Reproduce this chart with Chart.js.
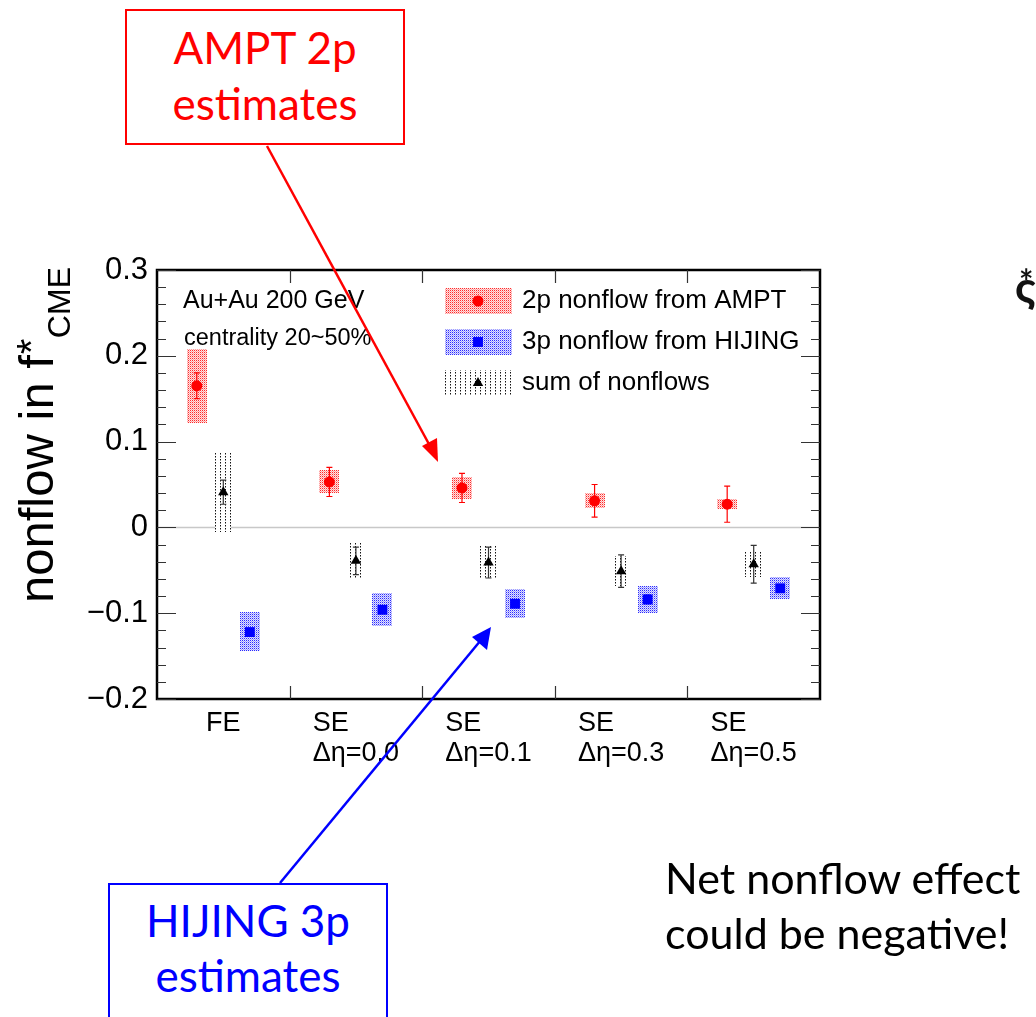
<!DOCTYPE html>
<html>
<head>
<meta charset="utf-8">
<script src="https://cdn.jsdelivr.net/npm/chart.js@4.4.1/dist/chart.umd.min.js"></script>
<style>
  html, body { margin: 0; padding: 0; background: #fff; overflow: hidden; }
  #wrap { position: relative; width: 1036px; height: 1017px; overflow: hidden; }
  #chart { position: absolute; left: 0; top: 0; }
  .box { position: absolute; box-sizing: border-box; border: 2px solid; background: #fff; }
  .txt { position: absolute; font-family: Lato, "Open Sans", sans-serif; line-height: 1; white-space: nowrap; }
  #arrows { position: absolute; left: 0; top: 0; pointer-events: none; }
</style>
</head>
<body>
<div id="wrap">
  <canvas id="chart" width="1036" height="1017"></canvas>

  <div class="box" style="left:125px; top:9px; width:280px; height:136px; border-color:#ff0000;"></div>
  <div class="txt" style="left:125px; width:280px; text-align:center; top:25px; font-size:44px; color:#ff0000;">AMPT 2p</div>
  <div class="txt" style="left:125px; width:280px; text-align:center; top:81px; font-size:44px; color:#ff0000;">estimates</div>

  <div class="box" style="left:108px; top:883px; width:280px; height:160px; border-color:#0000ff;"></div>
  <div class="txt" style="left:108px; width:280px; text-align:center; top:898px; font-size:44px; color:#0000ff;">HIJING 3p</div>
  <div class="txt" style="left:108px; width:280px; text-align:center; top:953px; font-size:44px; color:#0000ff;">estimates</div>

  <div class="txt" style="left:665px; top:856px; font-size:43px; color:#000;">Net nonflow effect</div>
  <div class="txt" style="left:665px; top:911px; font-size:43px; color:#000;">could be negative!</div>

  <div class="txt" style="left:1019px; top:264px; font-size:34px; font-weight:bold; color:#111;">*</div>
  <div class="txt" style="left:1015px; top:264px; font-size:44px; font-weight:bold; color:#111;">ς</div>

  <svg id="arrows" width="1036" height="1017">
    <line x1="267" y1="146" x2="430" y2="446" stroke="#ff0000" stroke-width="2.5"/>
    <polygon points="438,462 422,446 437,438" fill="#ff0000"/>
    <line x1="280" y1="883" x2="481" y2="640" stroke="#0000ff" stroke-width="2.5"/>
    <polygon points="491,627 487,650 472,637" fill="#0000ff"/>
  </svg>
</div>

<script>
// categories and tick values
const categories = [["FE"], ["SE", "Δη=0.0"], ["SE", "Δη=0.1"], ["SE", "Δη=0.3"], ["SE", "Δη=0.5"]];
const yTicks = [-0.2, -0.1, 0, 0.1, 0.2, 0.3];

// 2p nonflow from AMPT
const amptValues = [0.165, 0.053, 0.046, 0.031, 0.027];
const amptStat = [0.015, 0.017, 0.017, 0.019, 0.021];
const amptSys = [0.043, 0.0135, 0.013, 0.009, 0.006];

// 3p nonflow from HIJING
const hijingValues = [-0.122, -0.096, -0.089, -0.084, -0.071];
const hijingStat = [0.004, 0.004, 0.004, 0.005, 0.004];
const hijingSys = [0.023, 0.019, 0.017, 0.016, 0.013];

// sum of nonflows
const sumValues = [0.041, -0.039, -0.041, -0.051, -0.043];
const sumStat = [0.014, 0.016, 0.018, 0.019, 0.022];
const sumSys = [0.046, 0.021, 0.020, 0.0175, 0.0146];

const FONT = '"Liberation Sans", Arial, Helvetica, sans-serif';
Chart.defaults.font.family = FONT;

function dotPattern(ctx, w, h, dots) {
  const c = document.createElement("canvas");
  c.width = w;
  c.height = h;
  const g = c.getContext("2d");
  g.fillStyle = "#fff";
  g.fillRect(0, 0, w, h);
  dots.forEach(([x, y, col]) => {
    g.fillStyle = col;
    g.fillRect(x, y, 1, 1);
  });
  return ctx.createPattern(c, "repeat");
}

// one entry per series: where it sits in the category and how it looks
const series = [
  { label: "2p nonflow from AMPT", values: amptValues, stat: amptStat, sys: amptSys,
    offset: -0.2, half: 0.076, color: "#ff0000", barColor: "#ff0000", style: "circle", radius: 5.5, pattern: null },
  { label: "3p nonflow from HIJING", values: hijingValues, stat: hijingStat, sys: hijingSys,
    offset: 0.2, half: 0.076, color: "#0000ff", barColor: "#0000ff", style: "rect", radius: 7, pattern: null },
  { label: "sum of nonflows", values: sumValues, stat: sumStat, sys: sumSys,
    offset: 0, half: 0.062, color: "#000000", barColor: "#333333", style: "triangle", radius: 6, pattern: null },
];

const patterns = {};
function getPatterns(ctx) {
  if (!patterns.red) {
    patterns.red = dotPattern(ctx, 2, 2, [[0, 0, "#ff2a2a"], [1, 1, "#ffa0a0"], [1, 0, "#ffe2e2"], [0, 1, "#ffe2e2"]]);
    patterns.blue = dotPattern(ctx, 2, 2, [[0, 0, "#2a2aff"], [1, 1, "#a0a0ff"], [1, 0, "#e2e2ff"], [0, 1, "#e2e2ff"]]);
    patterns.black = dotPattern(ctx, 5, 3, [[0, 0, "#111"], [0, 1, "#888"]]);
    series[0].pattern = patterns.red;
    series[1].pattern = patterns.blue;
    series[2].pattern = patterns.black;
  }
}

const nonflowPlugin = {
  id: "nonflow",
  beforeDatasetsDraw(chart) {
    const { ctx, chartArea: a, scales: { x, y } } = chart;
    getPatterns(ctx);
    ctx.save();
    // zero line
    ctx.strokeStyle = "#c8c8c8";
    ctx.lineWidth = 1.5;
    ctx.beginPath();
    ctx.moveTo(a.left, y.getPixelForValue(0));
    ctx.lineTo(a.right, y.getPixelForValue(0));
    ctx.stroke();

    // systematic boxes
    series.forEach((s) => {
      s.values.forEach((v, i) => {
        const cx = i + 0.5 + s.offset;
        const x0 = x.getPixelForValue(cx - s.half);
        const x1 = x.getPixelForValue(cx + s.half);
        const y0 = y.getPixelForValue(v + s.sys[i]);
        const y1 = y.getPixelForValue(v - s.sys[i]);
        ctx.fillStyle = s.pattern;
        ctx.fillRect(Math.round(x0), Math.round(y0), Math.round(x1 - x0), Math.round(y1 - y0));
      });
    });

    // statistical error bars
    series.forEach((s) => {
      ctx.strokeStyle = s.barColor;
      ctx.lineWidth = 1.2;
      s.values.forEach((v, i) => {
        const px = x.getPixelForValue(i + 0.5 + s.offset);
        const yt = y.getPixelForValue(v + s.stat[i]);
        const yb = y.getPixelForValue(v - s.stat[i]);
        ctx.beginPath();
        ctx.moveTo(px, yt);
        ctx.lineTo(px, yb);
        ctx.moveTo(px - 3, yt);
        ctx.lineTo(px + 3, yt);
        ctx.moveTo(px - 3, yb);
        ctx.lineTo(px + 3, yb);
        ctx.stroke();
      });
    });
    ctx.restore();
  },
  afterDatasetsDraw(chart) {
    const { ctx, chartArea: a, scales: { x, y } } = chart;
    ctx.save();

    // frame
    ctx.strokeStyle = "#000";
    ctx.lineWidth = 2.5;
    ctx.strokeRect(a.left, a.top, a.right - a.left, a.bottom - a.top);

    // inward ticks, ROOT style
    ctx.strokeStyle = "#333";
    ctx.lineWidth = 1.2;
    ctx.beginPath();
    for (let v = y.min; v <= y.max + 1e-9; v += 0.02) {
      const py = Math.round(y.getPixelForValue(v)) + 0.5;
      const major = Math.abs(v * 10 - Math.round(v * 10)) < 1e-6;
      const len = major ? 19 : 9;
      ctx.moveTo(a.left, py);
      ctx.lineTo(a.left + len, py);
      ctx.moveTo(a.right, py);
      ctx.lineTo(a.right - len, py);
    }
    for (let i = 1; i < categories.length; i++) {
      const px = Math.round(x.getPixelForValue(i)) + 0.5;
      ctx.moveTo(px, a.bottom);
      ctx.lineTo(px, a.bottom - 13);
      ctx.moveTo(px, a.top);
      ctx.lineTo(px, a.top + 13);
    }
    ctx.stroke();

    // category labels, lines left aligned under the category centre
    ctx.fillStyle = "#000";
    ctx.font = "27px " + FONT;
    ctx.textBaseline = "middle";
    ctx.textAlign = "left";
    categories.forEach((lines, i) => {
      const cx = x.getPixelForValue(i + 0.5);
      const w = Math.max(...lines.map((l) => ctx.measureText(l).width));
      lines.forEach((l, k) => ctx.fillText(l, cx - w / 2, a.bottom + 25 + k * 30));
    });

    // y axis title
    ctx.save();
    ctx.translate(53, 603);
    ctx.rotate(-Math.PI / 2);
    ctx.textBaseline = "alphabetic";
    ctx.font = "49px " + FONT;
    const main = "nonflow in f";
    ctx.fillText(main, 0, 0);
    const w = ctx.measureText(main).width;
    ctx.font = "40px " + FONT;
    ctx.fillText("*", w + 1, -8);
    ctx.font = "32px " + FONT;
    ctx.fillText("CME", w + 17, 17);
    ctx.restore();

    // in-frame text
    ctx.font = "25px " + FONT;
    ctx.fillText("Au+Au 200 GeV", a.left + 26, 301);
    ctx.font = "23.5px " + FONT;
    ctx.fillText("centrality 20~50%", a.left + 27, 339);

    // legend
    const rows = [301, 342, 383];
    series.forEach((s, k) => {
      ctx.fillStyle = s.pattern;
      ctx.fillRect(445, rows[k] - 13, 67, 26);
      ctx.fillStyle = s.color;
      Chart.helpers.drawPoint(ctx, { pointStyle: s.style, radius: s.radius, rotation: 0, borderWidth: 0 }, 478, rows[k]);
      ctx.fillStyle = "#000";
      ctx.font = "26px " + FONT;
      ctx.fillText(s.label, 522, rows[k]);
    });
    ctx.restore();
  },
};

new Chart(document.getElementById("chart"), {
  type: "scatter",
  data: {
    datasets: series.map((s) => ({
      label: s.label,
      data: s.values.map((v, i) => ({ x: i + 0.5 + s.offset, y: v })),
      pointStyle: s.style,
      pointRadius: s.radius,
      pointHoverRadius: s.radius,
      backgroundColor: s.color,
      borderColor: s.color,
      borderWidth: 0,
    })),
  },
  options: {
    responsive: false,
    animation: false,
    events: [],
    layout: { padding: { top: 270, right: 216, bottom: 318, left: 0 } },
    plugins: { legend: { display: false }, tooltip: { enabled: false } },
    scales: {
      x: { type: "linear", min: 0, max: categories.length, display: false },
      y: {
        min: yTicks[0],
        max: yTicks[yTicks.length - 1],
        afterBuildTicks: (scale) => { scale.ticks = yTicks.map((v) => ({ value: v })); },
        afterFit: (scale) => { scale.width = 157; },
        border: { display: false },
        grid: { display: false, drawTicks: false },
        ticks: {
          padding: 9,
          color: "#000",
          font: { size: 31 },
          callback: (v) => (Math.abs(v) < 1e-9 ? "0" : (v < 0 ? "\u2212" : "") + Math.abs(v).toFixed(1)),
        },
      },
    },
  },
  plugins: [nonflowPlugin],
});
</script>
</body>
</html>
